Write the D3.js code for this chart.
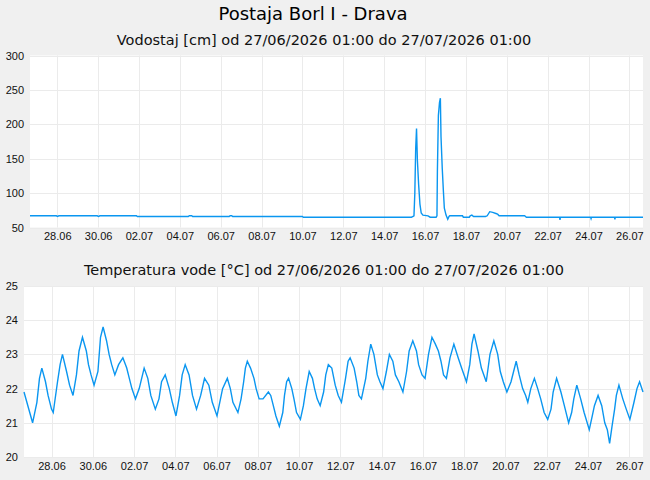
<!DOCTYPE html>
<html>
<head>
<meta charset="utf-8">
<script src="https://cdn.jsdelivr.net/npm/d3@7"></script>
<style>
  body { margin: 0; background: #f0f0f0; }
  svg { display: block; font-family: "DejaVu Sans", sans-serif; }
  .tick text { font-size: 11px; fill: #111; }
  .grid line { stroke: #ebebeb; stroke-width: 1; }
</style>
</head>
<body>
<div id="chart"></div>
<script>
// water level [cm]
var levelTimes = ["2026-06-26 16:00", "2026-06-27 23:00", "2026-06-28 00:00", "2026-06-28 02:00", "2026-06-29 23:00", "2026-06-30 00:30",
  "2026-06-30 02:00", "2026-07-01 21:00", "2026-07-01 22:00", "2026-07-04 10:00", "2026-07-04 11:00", "2026-07-04 14:00",
  "2026-07-04 15:00", "2026-07-06 10:00", "2026-07-06 11:00", "2026-07-06 13:00", "2026-07-06 14:00", "2026-07-10 00:00",
  "2026-07-10 01:00", "2026-07-15 08:00", "2026-07-15 10:00", "2026-07-15 11:00", "2026-07-15 12:00", "2026-07-15 13:00",
  "2026-07-15 14:00", "2026-07-15 15:00", "2026-07-15 16:30", "2026-07-15 18:00", "2026-07-15 19:30", "2026-07-15 21:30",
  "2026-07-16 03:30", "2026-07-16 06:00", "2026-07-16 13:00", "2026-07-16 14:00", "2026-07-16 14:30", "2026-07-16 15:40",
  "2026-07-16 17:00", "2026-07-16 18:00", "2026-07-16 18:45", "2026-07-16 20:15", "2026-07-16 21:30", "2026-07-16 22:40",
  "2026-07-17 00:40", "2026-07-17 02:40", "2026-07-17 04:10", "2026-07-17 05:00", "2026-07-17 20:00", "2026-07-17 21:00",
  "2026-07-18 04:00", "2026-07-18 05:00", "2026-07-18 07:00", "2026-07-18 09:00", "2026-07-18 23:00", "2026-07-19 01:00",
  "2026-07-19 04:00", "2026-07-19 07:30", "2026-07-19 12:00", "2026-07-19 13:30", "2026-07-19 15:00", "2026-07-20 21:00",
  "2026-07-20 23:00", "2026-07-22 14:00", "2026-07-22 14:30", "2026-07-22 15:00", "2026-07-24 02:30", "2026-07-24 03:00",
  "2026-07-24 03:30", "2026-07-25 06:30", "2026-07-25 07:00", "2026-07-25 07:30", "2026-07-26 16:00"];
var levelValues = [67, 67, 66, 67, 67, 66,
  67, 67, 66, 66, 67, 67,
  66, 66, 67, 67, 66, 66,
  65, 65, 66, 67, 100, 164,
  194, 148, 112, 84, 71, 68,
  67, 65, 65, 67, 131, 213,
  232, 238, 182, 135, 104, 78,
  68, 62, 66, 67, 67, 65,
  65, 67, 68, 66, 66, 67,
  73, 72, 70, 69, 67, 67,
  65, 65, 61, 65, 65, 63,
  65, 65, 62, 65, 65];

// water temperature [°C]
var tempTimes = ["2026-06-26 16:00", "2026-06-27 02:00", "2026-06-27 07:00", "2026-06-27 10:00", "2026-06-27 12:45", "2026-06-27 17:00",
  "2026-06-27 20:00", "2026-06-28 00:00", "2026-06-28 02:00", "2026-06-28 07:00", "2026-06-28 10:00", "2026-06-28 12:45",
  "2026-06-28 17:30", "2026-06-28 21:00", "2026-06-29 01:00", "2026-06-29 05:00", "2026-06-29 08:00", "2026-06-29 12:00",
  "2026-06-29 16:30", "2026-06-29 19:00", "2026-06-29 22:00", "2026-06-30 01:30", "2026-06-30 06:00", "2026-06-30 09:00",
  "2026-06-30 12:00", "2026-06-30 16:00", "2026-06-30 19:00", "2026-06-30 22:00", "2026-07-01 01:40", "2026-07-01 06:00",
  "2026-07-01 11:00", "2026-07-01 15:30", "2026-07-01 18:30", "2026-07-01 21:30", "2026-07-02 01:40", "2026-07-02 06:00",
  "2026-07-02 11:45", "2026-07-02 16:00", "2026-07-02 19:30", "2026-07-03 00:45", "2026-07-03 05:00", "2026-07-03 08:00",
  "2026-07-03 12:15", "2026-07-03 17:00", "2026-07-03 20:30", "2026-07-04 00:45", "2026-07-04 05:00", "2026-07-04 08:00",
  "2026-07-04 11:30", "2026-07-04 16:00", "2026-07-04 20:00", "2026-07-05 00:40", "2026-07-05 05:30", "2026-07-05 10:00",
  "2026-07-05 15:00", "2026-07-05 19:00", "2026-07-06 00:30", "2026-07-06 07:00", "2026-07-06 12:30", "2026-07-06 16:00",
  "2026-07-06 19:00", "2026-07-07 00:50", "2026-07-07 04:30", "2026-07-07 07:30", "2026-07-07 09:30", "2026-07-07 11:45",
  "2026-07-07 15:30", "2026-07-07 19:30", "2026-07-07 22:00", "2026-07-08 01:30", "2026-07-08 06:00", "2026-07-08 12:15",
  "2026-07-08 15:00", "2026-07-08 18:00", "2026-07-08 21:00", "2026-07-09 01:00", "2026-07-09 05:00", "2026-07-09 07:00",
  "2026-07-09 09:30", "2026-07-09 11:45", "2026-07-09 15:30", "2026-07-09 18:00", "2026-07-09 21:00", "2026-07-10 01:30",
  "2026-07-10 05:00", "2026-07-10 08:00", "2026-07-10 11:45", "2026-07-10 15:30", "2026-07-10 18:00", "2026-07-10 21:00",
  "2026-07-11 00:30", "2026-07-11 04:30", "2026-07-11 07:00", "2026-07-11 10:00", "2026-07-11 14:00", "2026-07-11 18:00",
  "2026-07-11 21:30", "2026-07-12 01:15", "2026-07-12 06:00", "2026-07-12 09:00", "2026-07-12 11:20", "2026-07-12 16:00",
  "2026-07-12 19:00", "2026-07-12 21:30", "2026-07-13 00:30", "2026-07-13 05:30", "2026-07-13 08:00", "2026-07-13 11:20",
  "2026-07-13 15:00", "2026-07-13 19:00", "2026-07-13 22:00", "2026-07-14 01:30", "2026-07-14 05:30", "2026-07-14 09:00",
  "2026-07-14 13:00", "2026-07-14 16:00", "2026-07-14 20:00", "2026-07-15 00:45", "2026-07-15 05:00", "2026-07-15 08:00",
  "2026-07-15 12:15", "2026-07-15 16:30", "2026-07-15 19:00", "2026-07-15 23:00", "2026-07-16 02:30", "2026-07-16 06:30",
  "2026-07-16 10:30", "2026-07-16 14:30", "2026-07-16 18:00", "2026-07-16 21:00", "2026-07-17 00:00", "2026-07-17 03:20",
  "2026-07-17 07:30", "2026-07-17 12:00", "2026-07-17 17:00", "2026-07-17 21:00", "2026-07-18 02:40", "2026-07-18 06:30",
  "2026-07-18 09:00", "2026-07-18 11:30", "2026-07-18 16:00", "2026-07-18 20:00", "2026-07-19 01:40", "2026-07-19 06:00",
  "2026-07-19 10:30", "2026-07-19 15:00", "2026-07-19 18:00", "2026-07-19 21:30", "2026-07-20 01:40", "2026-07-20 06:30",
  "2026-07-20 12:30", "2026-07-20 16:00", "2026-07-20 20:00", "2026-07-20 23:30", "2026-07-21 02:00", "2026-07-21 05:30",
  "2026-07-21 09:40", "2026-07-21 13:30", "2026-07-21 17:00", "2026-07-21 21:00", "2026-07-22 01:10", "2026-07-22 05:00",
  "2026-07-22 07:30", "2026-07-22 11:30", "2026-07-22 16:30", "2026-07-22 20:30", "2026-07-23 01:30", "2026-07-23 05:00",
  "2026-07-23 07:30", "2026-07-23 11:00", "2026-07-23 15:30", "2026-07-23 19:30", "2026-07-24 01:30", "2026-07-24 05:00",
  "2026-07-24 07:30", "2026-07-24 11:45", "2026-07-24 16:00", "2026-07-24 19:30", "2026-07-24 22:30", "2026-07-25 01:10",
  "2026-07-25 04:00", "2026-07-25 07:00", "2026-07-25 09:00", "2026-07-25 12:00", "2026-07-25 16:30", "2026-07-25 20:30",
  "2026-07-26 00:45", "2026-07-26 05:30", "2026-07-26 09:00", "2026-07-26 12:00", "2026-07-26 16:00"];
var tempValues = [21.9, 21.0, 21.6, 22.3, 22.6, 22.2,
  21.8, 21.4, 21.3, 22.2, 22.7, 23.0,
  22.5, 22.1, 21.8, 22.4, 23.1, 23.5,
  23.1, 22.7, 22.4, 22.1, 22.5, 23.5,
  23.8, 23.4, 23.0, 22.7, 22.4, 22.7,
  22.9, 22.6, 22.3, 22.0, 21.7, 22.0,
  22.6, 22.3, 21.8, 21.4, 21.7, 22.2,
  22.4, 22.0, 21.6, 21.2, 21.8, 22.4,
  22.7, 22.4, 21.8, 21.4, 21.8, 22.3,
  22.1, 21.6, 21.2, 22.0, 22.3, 22.0,
  21.6, 21.3, 21.7, 22.2, 22.6, 22.8,
  22.6, 22.3, 22.0, 21.7, 21.7, 21.9,
  21.8, 21.5, 21.2, 20.9, 21.3, 21.8,
  22.2, 22.3, 22.0, 21.7, 21.3, 21.1,
  21.5, 22.0, 22.5, 22.3, 22.0, 21.7,
  21.5, 21.9, 22.4, 22.7, 22.6, 22.1,
  21.8, 21.6, 22.3, 22.8, 22.9, 22.6,
  22.2, 21.8, 21.7, 22.3, 22.8, 23.3,
  23.0, 22.4, 22.2, 22.0, 22.5, 23.0,
  22.8, 22.4, 22.2, 21.9, 22.5, 23.1,
  23.4, 23.1, 22.7, 22.4, 22.3, 23.0,
  23.5, 23.3, 23.1, 22.8, 22.4, 22.3,
  22.9, 23.3, 22.9, 22.6, 22.2, 22.7,
  23.3, 23.6, 23.1, 22.6, 22.2, 23.0,
  23.4, 23.0, 22.5, 22.2, 21.9, 22.2,
  22.8, 22.4, 22.0, 21.8, 21.6, 22.0,
  22.3, 22.0, 21.7, 21.3, 21.1, 21.4,
  21.9, 22.3, 21.9, 21.5, 21.0, 21.3,
  21.7, 22.1, 21.7, 21.3, 20.8, 21.2,
  21.5, 21.8, 21.5, 21.0, 20.8, 20.4,
  20.9, 21.4, 21.8, 22.1, 21.7, 21.4,
  21.1, 21.6, 22.0, 22.2, 21.9];

var dateTicks = ["2026-06-28", "2026-06-30", "2026-07-02", "2026-07-04", "2026-07-06", "2026-07-08", "2026-07-10", "2026-07-12",
  "2026-07-14", "2026-07-16", "2026-07-18", "2026-07-20", "2026-07-22", "2026-07-24", "2026-07-26"];
var levelTicks = [50, 100, 150, 200, 250, 300];
var tempTicks = [20, 21, 22, 23, 24, 25];

var width = 650, height = 480;
var lineColor = "#0a96f0";
var parseTime = d3.timeParse("%Y-%m-%d %H:%M");
var parseDay = d3.timeParse("%Y-%m-%d");
var timeDomain = [parseTime("2026-06-26 16:00"), parseTime("2026-07-26 16:00")];

var svg = d3.select("#chart").append("svg")
  .attr("width", width)
  .attr("height", height);

svg.append("rect").attr("width", width).attr("height", height).attr("fill", "#f0f0f0");

svg.append("text")
  .attr("x", 313).attr("y", 20)
  .attr("text-anchor", "middle")
  .style("font-size", "18px")
  .text("Postaja Borl I - Drava");

function drawPanel(opts) {
  var x = d3.scaleTime().domain(timeDomain).range([opts.left, opts.right]);
  var y = d3.scaleLinear().domain(opts.yDomain).range([opts.bottom, opts.top]);

  svg.append("text")
    .attr("x", 324).attr("y", opts.titleY)
    .attr("text-anchor", "middle")
    .style("font-size", "14.5px")
    .style("fill", "#111")
    .text(opts.title);

  svg.append("rect")
    .attr("x", opts.left).attr("y", opts.top)
    .attr("width", opts.right - opts.left).attr("height", opts.bottom - opts.top)
    .attr("fill", "#fff");

  var xTicks = dateTicks.map(parseDay);

  // grid
  var grid = svg.append("g").attr("class", "grid");
  grid.selectAll(".vx").data(xTicks).enter().append("line")
    .attr("x1", function (d) { return Math.round(x(d)) + 0.5; })
    .attr("x2", function (d) { return Math.round(x(d)) + 0.5; })
    .attr("y1", opts.top).attr("y2", opts.bottom);
  grid.selectAll(".hy").data(opts.yTicks).enter().append("line")
    .attr("y1", function (d) { return Math.round(y(d)) + 0.5; })
    .attr("y2", function (d) { return Math.round(y(d)) + 0.5; })
    .attr("x1", opts.left).attr("x2", opts.right);

  // axes
  var xAxis = svg.append("g")
    .attr("transform", "translate(0," + opts.bottom + ")")
    .call(d3.axisBottom(x).tickValues(xTicks).tickFormat(d3.timeFormat("%d.%m")).tickSize(0).tickPadding(5));
  xAxis.select(".domain").remove();

  var yAxis = svg.append("g")
    .attr("transform", "translate(" + opts.left + ",0)")
    .call(d3.axisLeft(y).tickValues(opts.yTicks).tickFormat(d3.format("d")).tickSize(0).tickPadding(6));
  yAxis.select(".domain").remove();

  var line = d3.line()
    .x(function (d) { return x(d.t); })
    .y(function (d) { return y(d.v); });

  var data = opts.times.map(function (t, i) {
    return { t: parseTime(t), v: opts.values[i] };
  });

  svg.append("path")
    .datum(data)
    .attr("fill", "none")
    .attr("stroke", lineColor)
    .attr("stroke-width", 1.4)
    .attr("d", line);
}

drawPanel({
  title: "Vodostaj [cm] od 27/06/2026 01:00 do 27/07/2026 01:00",
  titleY: 45,
  left: 30, right: 643, top: 55.5, bottom: 227.5,
  yDomain: [50, 300], yTicks: levelTicks,
  times: levelTimes, values: levelValues
});

drawPanel({
  title: "Temperatura vode [°C] od 27/06/2026 01:00 do 27/07/2026 01:00",
  titleY: 275,
  left: 24, right: 643, top: 286, bottom: 457,
  yDomain: [20, 25], yTicks: tempTicks,
  times: tempTimes, values: tempValues
});
</script>
</body>
</html>
